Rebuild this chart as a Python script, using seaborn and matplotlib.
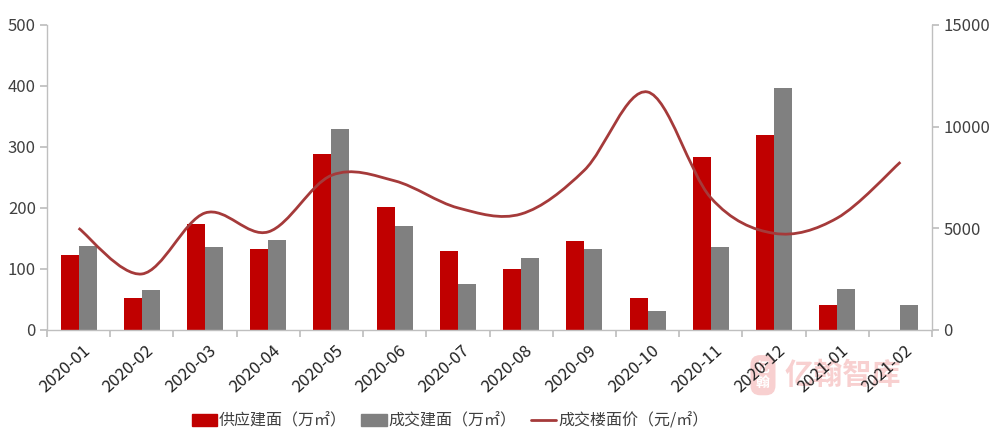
import matplotlib
matplotlib.use('Agg')
import matplotlib.pyplot as plt
import numpy as np
import pandas as pd
import seaborn as sns
from matplotlib.path import Path
from matplotlib.patches import PathPatch, Patch
from matplotlib.lines import Line2D

months = ['2020-01', '2020-02', '2020-03', '2020-04', '2020-05', '2020-06', '2020-07',
          '2020-08', '2020-09', '2020-10', '2020-11', '2020-12', '2021-01', '2021-02']
supply = [123, 53, 174, 133, 288, 201, 129, 100, 146, 53, 283, 320, 41, 0]
deal = [138, 65, 136, 148, 330, 170, 76, 118, 133, 31, 136, 397, 67, 41]
price = [5000, 2750, 5750, 4820, 7600, 7330, 6000, 5700, 7850, 11700, 6500, 4750, 5500, 8250]

lab_supply = '供应建面（万㎡）'
lab_deal = '成交建面（万㎡）'
lab_price = '成交楼面价（元/㎡）'

RED = '#C00000'
GREY = '#808080'
LINE = '#A53A3A'
TXT = '#404040'


def smooth_path(xs, ys):
    # excel-style smoothed line as cubic bezier segments through the points
    verts = [(xs[0], ys[0])]
    codes = [Path.MOVETO]
    n = len(xs)
    for i in range(n - 1):
        x0, y0 = (xs[i - 1], ys[i - 1]) if i > 0 else (xs[i], ys[i])
        x1, y1 = xs[i], ys[i]
        x2, y2 = xs[i + 1], ys[i + 1]
        x3, y3 = (xs[i + 2], ys[i + 2]) if i + 2 < n else (x2, y2)
        c1 = (x1 + (x2 - x0) / 6, y1 + (y2 - y0) / 6)
        c2 = (x2 - (x3 - x1) / 6, y2 - (y3 - y1) / 6)
        verts += [c1, c2, (x2, y2)]
        codes += [Path.CURVE4] * 3
    return Path(verts, codes)


sns.set_theme(style='white')
plt.rcParams['font.family'] = ['Noto Sans CJK SC', 'DejaVu Sans']

df = pd.DataFrame({
    'month': months * 2,
    'value': supply + deal,
    'kind': [lab_supply] * len(months) + [lab_deal] * len(months),
})

fig = plt.figure(figsize=(10, 4.44), dpi=100)

# watermark, kept under the chart
fig.text(0.763, 0.155, '亿\n翰', fontsize=10, color='white', ha='center', va='center',
         linespacing=1.1, fontweight='bold', zorder=-5,
         bbox=dict(boxstyle='round,pad=0.4,rounding_size=0.7', fc='#F8D0D0', ec='none'))
fig.text(0.785, 0.155, '亿翰智库', fontsize=21, color='#F8D0D0',
         ha='left', va='center', fontweight='bold', zorder=-5)

ax = fig.add_axes([0.047, 0.257, 0.885, 0.687])
ax.patch.set_alpha(0)

sns.barplot(data=df, x='month', y='value', hue='kind', palette=[RED, GREY],
            width=0.57, gap=0, linewidth=0, saturation=1, legend=False, ax=ax)
ax.set_xlim(-0.5, len(months) - 0.5)
ax.set_ylim(0, 500)
ax.set_yticks([0, 100, 200, 300, 400, 500])
ax.set(xlabel='', ylabel='')

ax2 = ax.twinx()
ax2.set_ylim(0, 15000)
ax2.set_yticks([0, 5000, 10000, 15000])
ax2.add_patch(PathPatch(smooth_path(list(range(len(months))), price),
                        facecolor='none', edgecolor=LINE, lw=2.0,
                        transform=ax2.transData))

for a in (ax, ax2):
    a.spines['top'].set_visible(False)
    for s in ('left', 'right', 'bottom'):
        a.spines[s].set_color('#BFBFBF')
        a.spines[s].set_linewidth(1)
    a.grid(False)
ax.spines['right'].set_visible(False)
ax2.spines['left'].set_visible(False)
ax2.spines['bottom'].set_visible(False)

# ticks on category boundaries, labels on centres
ax.set_xticks(np.arange(-0.5, len(months), 1))
ax.set_xticklabels([])
ax.set_xticks(np.arange(len(months)) + 0.06, minor=True)
ax.set_xticklabels(months, minor=True, rotation=42, ha='right',
                   rotation_mode='anchor', fontsize=12, color='#202020')
ax.tick_params(axis='x', which='major', length=5, color='#BFBFBF', bottom=True)
ax.tick_params(axis='x', which='minor', length=0, pad=9)
ax.tick_params(axis='y', length=5, color='#BFBFBF', left=True, labelsize=12,
               labelcolor=TXT, pad=3)
ax2.tick_params(axis='y', length=5, color='#BFBFBF', right=True, labelsize=12,
                labelcolor=TXT, pad=3)

handles = [Patch(color=RED), Patch(color=GREY), Line2D([], [], color=LINE, lw=2)]
fig.legend(handles, [lab_supply, lab_deal, lab_price], loc='lower center',
           bbox_to_anchor=(0.45, 0.0), ncol=3, frameon=False, fontsize=11.5,
           handlelength=1.6, handleheight=0.7, handletextpad=0.1, columnspacing=0.9,
           labelcolor=TXT)

fig.savefig('out.png', dpi=100)
